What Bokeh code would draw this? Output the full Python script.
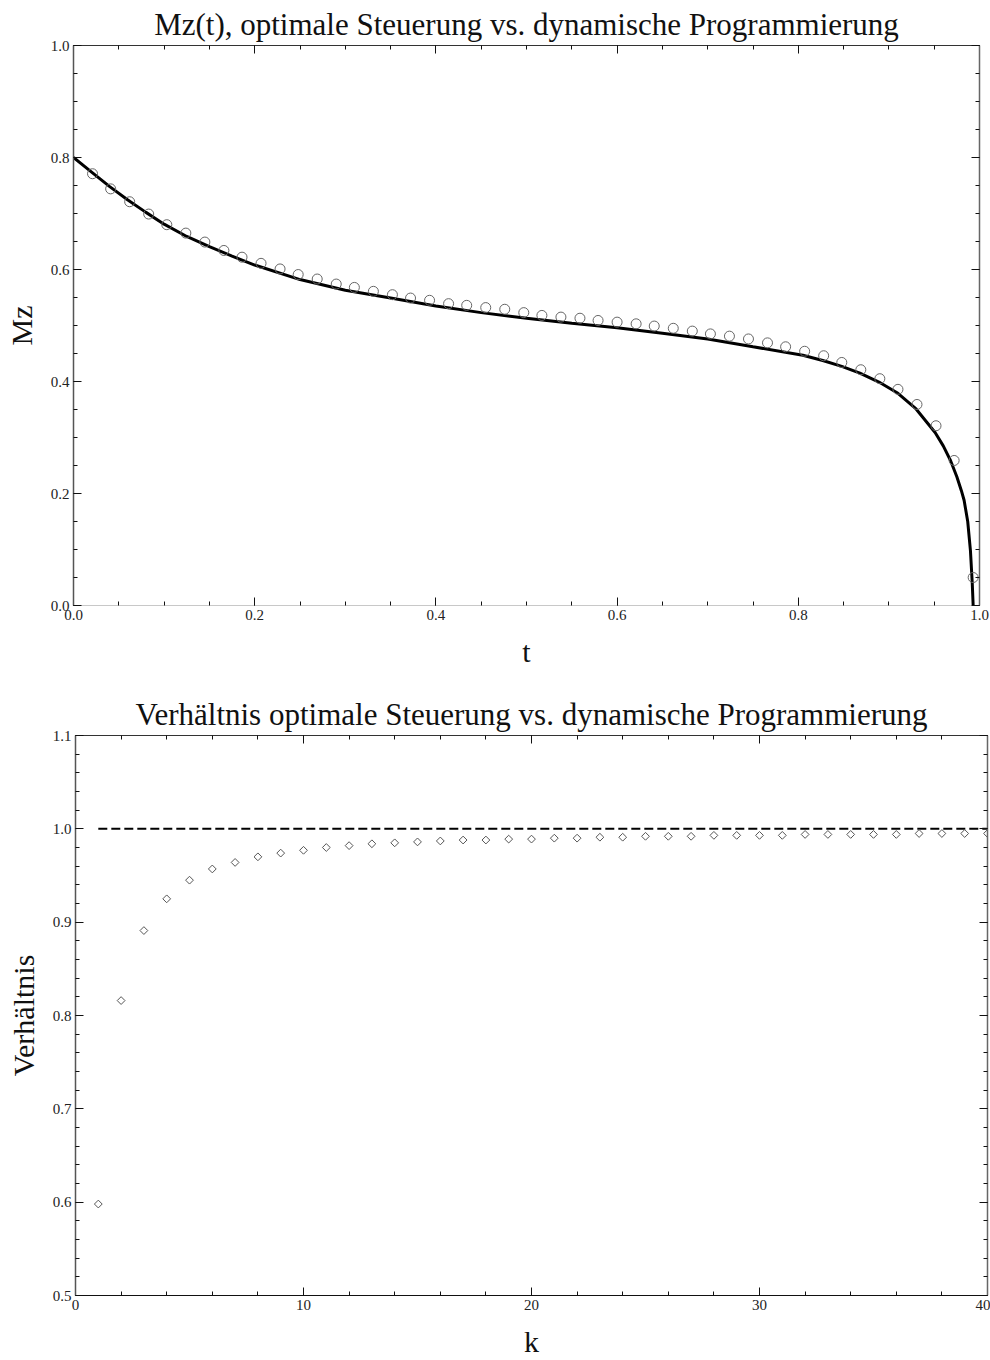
from bokeh.plotting import figure
from bokeh.layouts import column
from bokeh.models import (LinearAxis, SingleIntervalTicker, PrintfTickFormatter,
                          Range1d, ColumnDataSource)
from bokeh.embed import file_html
from bokeh.resources import INLINE
import math

# ---------------- data: top chart ----------------
title_top = "Mz(t), optimale Steuerung vs. dynamische Programmierung"
title_bottom = "Verhältnis optimale Steuerung vs. dynamische Programmierung"

# optimal control curve Mz(t)
oc_t = [0.000, 0.020, 0.040, 0.060, 0.080, 0.100, 0.125, 0.150, 0.175, 0.200,
        0.250, 0.300, 0.350, 0.400, 0.450, 0.500, 0.550, 0.600, 0.650, 0.700,
        0.750, 0.805, 0.827, 0.848, 0.868, 0.889, 0.910, 0.930, 0.951, 0.960,
        0.968, 0.975, 0.980, 0.983, 0.987, 0.990, 0.992, 0.993]
oc_mz = [0.800, 0.774, 0.748, 0.724, 0.702, 0.681, 0.659, 0.641, 0.624, 0.608,
         0.582, 0.563, 0.549, 0.535, 0.523, 0.513, 0.504, 0.496, 0.486, 0.476,
         0.462, 0.447, 0.4375, 0.427, 0.415, 0.399, 0.379, 0.351, 0.309, 0.285,
         0.259, 0.230, 0.205, 0.188, 0.150, 0.098, 0.040, 0.000]

# dynamic programming points
dp_t = [0.021, 0.041, 0.062, 0.083, 0.103, 0.124, 0.145, 0.166, 0.186, 0.207,
        0.228, 0.248, 0.269, 0.290, 0.310, 0.331, 0.352, 0.372, 0.393, 0.414,
        0.434, 0.455, 0.476, 0.497, 0.517, 0.538, 0.559, 0.579, 0.600, 0.621,
        0.641, 0.662, 0.683, 0.703, 0.724, 0.745, 0.766, 0.786, 0.807, 0.828,
        0.848, 0.869, 0.890, 0.910, 0.931, 0.952, 0.972, 0.993]
dp_mz = [0.771, 0.744, 0.721, 0.699, 0.680, 0.665, 0.649, 0.634, 0.622, 0.611,
         0.601, 0.591, 0.583, 0.574, 0.568, 0.561, 0.555, 0.549, 0.545, 0.539,
         0.536, 0.532, 0.529, 0.523, 0.518, 0.515, 0.513, 0.509, 0.506, 0.503,
         0.499, 0.495, 0.490, 0.485, 0.481, 0.476, 0.469, 0.462, 0.454, 0.446,
         0.434, 0.421, 0.405, 0.386, 0.359, 0.321, 0.259, 0.050]

# ---------------- data: bottom chart ----------------
k_values = list(range(1, 41))
ratio = [0.598, 0.816, 0.891, 0.925, 0.945, 0.957, 0.964, 0.970, 0.974, 0.977,
         0.980, 0.982, 0.984, 0.985, 0.986, 0.987, 0.988, 0.988, 0.989, 0.989,
         0.990, 0.990, 0.991, 0.991, 0.992, 0.992, 0.992, 0.993, 0.993, 0.993,
         0.993, 0.994, 0.994, 0.994, 0.994, 0.994, 0.995, 0.995, 0.995, 0.995]
ref_k = [1, 40]
ref_ratio = [1.0, 1.0]

FONT = "Liberation Serif"


def style_axis(ax, interval, minor, fmt, show_labels=True, line_color="#444444", line_width=1.2):
    ax.ticker = SingleIntervalTicker(interval=interval, num_minor_ticks=minor)
    ax.formatter = PrintfTickFormatter(format=fmt)
    ax.major_tick_in = 8
    ax.major_tick_out = 0
    ax.minor_tick_in = 4
    ax.minor_tick_out = 0
    ax.major_tick_line_color = "#111111"
    ax.minor_tick_line_color = "#111111"
    ax.axis_line_color = line_color
    ax.axis_line_width = line_width
    ax.major_label_text_font = FONT
    if show_labels:
        ax.major_label_text_color = "#222222"
        ax.major_label_text_font_size = "15px"
        ax.major_label_standoff = 4
    else:
        ax.major_label_text_color = None
        ax.major_label_text_font_size = "1px"
        ax.major_label_standoff = 0
        ax.axis_label_standoff = 0
    ax.axis_label_text_font = FONT
    ax.axis_label_text_font_style = "normal"
    ax.axis_label_text_font_size = "30px"
    ax.axis_label_text_color = "#111111"


def make_fig(title, w, h, xr, yr, borders, xlabel, ylabel, xint, yint, xminor, yminor,
             xfmt, yfmt, bottom_color):
    p = figure(width=w, height=h, x_range=Range1d(*xr), y_range=Range1d(*yr),
               output_backend="svg", toolbar_location=None, title=title,
               min_border_left=borders[0], min_border_right=borders[1],
               min_border_top=borders[2], min_border_bottom=borders[3],
               x_axis_label=xlabel, y_axis_label=ylabel)
    p.grid.visible = False
    p.outline_line_color = None
    p.title.align = "center"
    p.title.text_font = FONT
    p.title.text_font_style = "normal"
    p.title.text_font_size = "31px"
    p.title.text_color = "#111111"
    p.title.standoff = 8
    style_axis(p.xaxis[0], xint, xminor, xfmt, True, line_color=bottom_color)
    p.xaxis[0].axis_label_standoff = 12
    style_axis(p.yaxis[0], yint, yminor, yfmt, True, line_color="#555555", line_width=1.5)
    p.yaxis[0].axis_label_standoff = 10
    ax_r = LinearAxis()
    style_axis(ax_r, yint, yminor, yfmt, False, line_color="#666666", line_width=1.5)
    p.add_layout(ax_r, "right")
    ax_t = LinearAxis()
    style_axis(ax_t, xint, xminor, xfmt, False, line_color="#333333")
    p.add_layout(ax_t, "above")
    return p


p1 = make_fig(title_top, 990, 670, (0, 1), (0, 1), (73, 11, 45, 65),
              "t", "Mz", 0.2, 0.2, 4, 4, "%.1f", "%.1f", "#c8c8c8")
src_oc = ColumnDataSource(dict(t=oc_t, mz=oc_mz))
src_dp = ColumnDataSource(dict(t=dp_t, mz=dp_mz))
p1.line("t", "mz", source=src_oc, line_color="black", line_width=3)
p1.scatter("t", "mz", source=src_dp, marker="circle", size=10,
           fill_color=None, line_color="#666666", line_width=1)

p2 = make_fig(title_bottom, 990, 690, (0, 40), (0.5, 1.1), (75, 3, 65, 63),
              "k", "Verhältnis", 10, 0.1, 5, 5, "%d", "%.1f", "#111111")
src_ref = ColumnDataSource(dict(k=ref_k, r=ref_ratio))
src_ratio = ColumnDataSource(dict(k=k_values, r=ratio))
p2.line("k", "r", source=src_ref, line_color="black", line_width=2, line_dash="9 4")
p2.scatter("k", "r", source=src_ratio, marker="square", angle=math.pi / 4, size=5.5,
           fill_color=None, line_color="#555555", line_width=1)

layout = column(column(p1), column(p2), spacing=0)
open("out.html", "w").write(file_html(layout, INLINE))
